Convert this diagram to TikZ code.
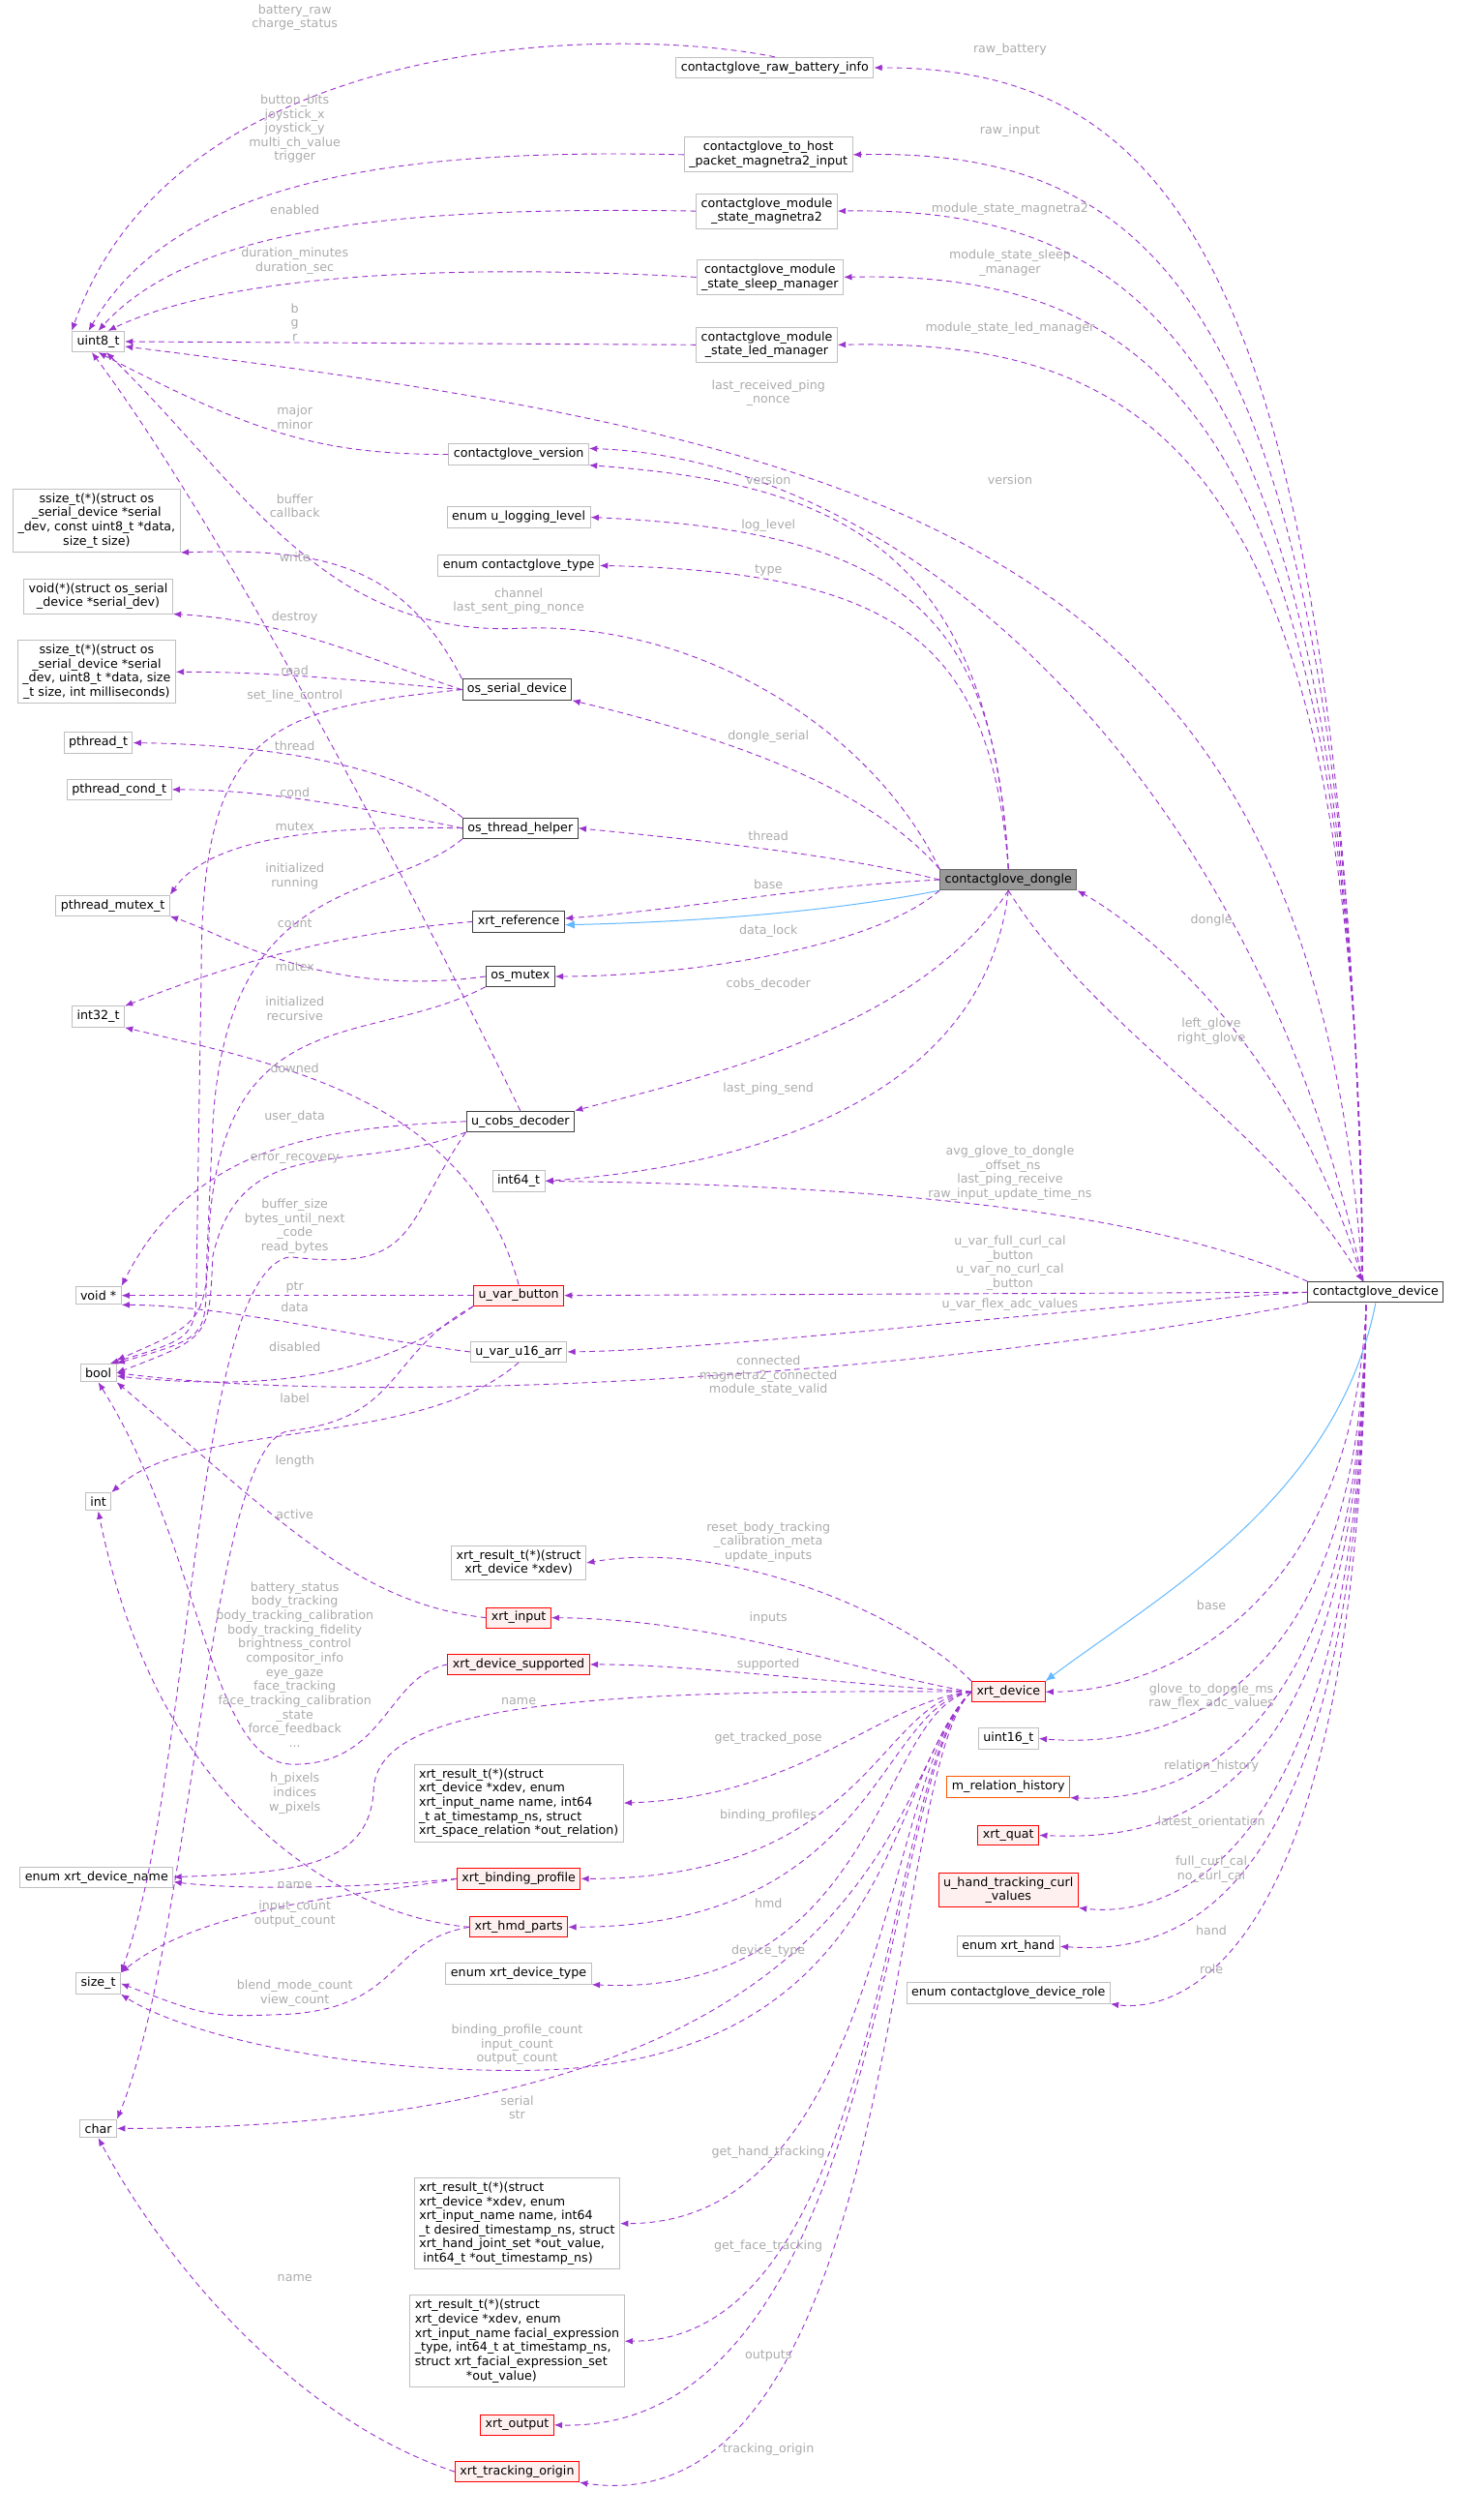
\documentclass[tikz,border=0pt]{standalone}
\usepackage{fontspec}
\setmainfont{DejaVu Sans}
\usetikzlibrary{arrows.meta}
\definecolor{edgep}{HTML}{9A32CD}
\definecolor{inh}{HTML}{63B8FF}
\definecolor{lblc}{HTML}{ABABAB}
\definecolor{bgray}{HTML}{BFBFBF}
\definecolor{bdark}{HTML}{404040}
\definecolor{rfill}{HTML}{FFF0F0}
\begin{document}
\begin{tikzpicture}[x=1pt,y=-1pt,
  every node/.style={font=\fontsize{7.6}{8.8}\selectfont},
  nd/.style={draw=bgray,fill=white,inner xsep=3pt,inner ysep=2.6pt,align=center,line width=0.6pt},
  ndl/.style={nd,align=left},
  ndk/.style={nd,draw=bdark},
  ndr/.style={nd,draw=red,fill=rfill},
  ndo/.style={nd,draw=orange!70!red},
  ndg/.style={nd,draw=black!60,fill=black!40},
  dep/.style={draw=edgep,dashed,dash pattern=on 3.5pt off 2.5pt,line width=0.55pt,-{Latex[length=5pt,width=4pt]}},
  inhe/.style={draw=inh,line width=0.6pt,-{Latex[length=6pt,width=5pt]}},
  lbl/.style={text=lblc,align=center,inner sep=0pt}]
\useasboundingbox (0,0) rectangle (905,1564);
% left column
\node[nd] (u8) at (61,212) {uint8\_t};
\node[nd] (wfn) at (60,323) {ssize\_t(*)(struct os\\\_serial\_device *serial\\\_dev, const uint8\_t *data,\\size\_t size)};
\node[nd] (vfn) at (61,370) {void(*)(struct os\_serial\\\_device *serial\_dev)};
\node[nd] (rfn) at (60,417) {ssize\_t(*)(struct os\\\_serial\_device *serial\\\_dev, uint8\_t *data, size\\\_t size, int milliseconds)};
\node[nd] (pth) at (61,461) {pthread\_t};
\node[nd] (pcond) at (74,490) {pthread\_cond\_t};
\node[nd] (pmut) at (70,562) {pthread\_mutex\_t};
\node[nd] (i32) at (61,631) {int32\_t};
\node[nd] (vptr) at (61,804) {void *};
\node[nd] (bool) at (61,852) {bool};
\node[nd] (int) at (61,932) {int};
\node[nd] (edn) at (60,1165) {enum xrt\_device\_name};
\node[nd] (szt) at (61,1231) {size\_t};
\node[nd] (chr) at (61,1321) {char};
% middle column
\node[nd] (ver) at (322,282) {contactglove\_version};
\node[nd] (ull) at (322,321) {enum u\_logging\_level};
\node[nd] (cgt) at (322,351) {enum contactglove\_type};
\node[ndk] (osd) at (321,428) {os\_serial\_device};
\node[ndk] (oth) at (323,514) {os\_thread\_helper};
\node[ndk] (xref) at (322,572) {xrt\_reference};
\node[ndk] (omx) at (323,606) {os\_mutex};
\node[ndk] (cobs) at (323,696) {u\_cobs\_decoder};
\node[nd] (i64) at (322,733) {int64\_t};
\node[ndr] (uvb) at (322,804) {u\_var\_button};
\node[nd] (u16a) at (322,839) {u\_var\_u16\_arr};
\node[nd] (fxd) at (322,970) {xrt\_result\_t(*)(struct\\xrt\_device *xdev)};
\node[ndr] (xin) at (322,1004) {xrt\_input};
\node[ndr] (xds) at (322,1033) {xrt\_device\_supported};
\node[ndl] (ftp) at (322,1119) {xrt\_result\_t(*)(struct\\ xrt\_device *xdev, enum\\ xrt\_input\_name name, int64\\\_t at\_timestamp\_ns, struct\\ xrt\_space\_relation *out\_relation)};
\node[ndr] (xbp) at (322,1166) {xrt\_binding\_profile};
\node[ndr] (xhp) at (322,1196) {xrt\_hmd\_parts};
\node[nd] (xdt) at (322,1225) {enum xrt\_device\_type};
\node[ndl] (fht) at (321,1380) {xrt\_result\_t(*)(struct\\ xrt\_device *xdev, enum\\ xrt\_input\_name name, int64\\\_t desired\_timestamp\_ns, struct\\ xrt\_hand\_joint\_set *out\_value,\\ \ int64\_t *out\_timestamp\_ns)};
\node[ndl] (ffe) at (321,1453) {xrt\_result\_t(*)(struct\\ xrt\_device *xdev, enum\\ xrt\_input\_name facial\_expression\\\_type, int64\_t at\_timestamp\_ns,\\ struct xrt\_facial\_expression\_set\\ \hspace{4.2em}*out\_value)};
\node[ndr] (xout) at (321,1505) {xrt\_output};
\node[ndr] (xto) at (321,1534) {xrt\_tracking\_origin};
% upper middle
\node[nd] (rbi) at (481,42) {contactglove\_raw\_battery\_info};
\node[nd] (thp) at (477,96) {contactglove\_to\_host\\\_packet\_magnetra2\_input};
\node[nd] (msm) at (476,131) {contactglove\_module\\\_state\_magnetra2};
\node[nd] (mss) at (478,172) {contactglove\_module\\\_state\_sleep\_manager};
\node[nd] (msl) at (476,214) {contactglove\_module\\\_state\_led\_manager};
\node[ndg] (dongle) at (626,546) {contactglove\_dongle};
% right column
\node[ndr] (xd) at (626,1050) {xrt\_device};
\node[nd] (u16) at (626,1079) {uint16\_t};
\node[ndo] (mrh) at (626,1109) {m\_relation\_history};
\node[ndr] (xq) at (626,1139) {xrt\_quat};
\node[ndr] (uhc) at (626,1173) {u\_hand\_tracking\_curl\\\_values};
\node[nd] (exh) at (626,1208) {enum xrt\_hand};
\node[nd] (role) at (626,1237) {enum contactglove\_device\_role};
\node[ndk] (dev) at (854,802) {contactglove\_device};
\coordinate (dT) at (846,795);
\coordinate (dB) at (848,810);

% ---- edges to uint8_t
\draw[dep] (rbi.north) .. controls (380,15) and (110,20) .. (u8.north west);
\draw[dep] (thp.west) .. controls (250,92) and (110,110) .. ([xshift=-6]u8.north);
\draw[dep] (msm.west) .. controls (250,128) and (120,140) .. (u8.north);
\draw[dep] (mss.west) .. controls (250,162) and (130,175) .. ([xshift=6]u8.north);
\draw[dep] (msl.west) -- (u8.east);
\draw[dep] (ver.west) .. controls (200,282) and (160,270) .. (u8.south);
\draw[dep] (dT) .. controls (815,340) and (560,275) .. ([yshift=-3]u8.east);
\draw[dep] (dongle.north west) .. controls (540,450) and (430,385) .. (322,390) .. controls (200,395) and (150,300) .. ([xshift=5]u8.south);
\draw[dep] (cobs.north) .. controls (260,560) and (140,330) .. ([xshift=-4]u8.south);
% os_serial_device
\draw[dep] (osd.north west) .. controls (250,350) and (200,340) .. (wfn.south east);
\draw[dep] (osd.west) .. controls (230,410) and (180,385) .. (vfn.south east);
\draw[dep] (osd.west) .. controls (220,422) and (170,417) .. (rfn.east);
\draw[dep] (osd.west) .. controls (170,440) and (125,450) .. (125,600) -- (122,790) .. controls (122,830) .. ([xshift=-4]bool.north east);
% os_thread_helper
\draw[dep] (oth.north west) .. controls (240,470) and (150,462) .. (pth.east);
\draw[dep] (oth.west) .. controls (220,500) and (160,490) .. (pcond.east);
\draw[dep] (oth.west) .. controls (200,512) and (130,520) .. (pmut.north east);
\draw[dep] (oth.south west) .. controls (240,560) and (140,540) .. (132,700) -- (128,790) .. controls (128,830) .. (bool.north east);
% xrt_reference, os_mutex
\draw[dep] (xref.west) .. controls (200,580) and (140,600) .. (i32.north east);
\draw[dep] (omx.west) .. controls (200,620) and (140,580) .. (pmut.south east);
\draw[dep] (omx.south west) .. controls (230,650) and (140,620) .. (130,760) .. controls (128,820) .. ([yshift=2]bool.north east);
% u_cobs_decoder
\draw[dep] (cobs.west) .. controls (200,700) and (120,710) .. (vptr.north east);
\draw[dep] (cobs.south west) .. controls (220,730) and (150,700) .. (132,780) .. controls (130,830) .. (bool.east);
\draw[dep] (cobs.south west) .. controls (250,760) and (260,790) .. (180,780) .. controls (120,790) and (120,1100) .. (szt.north east);
% u_var_button, u_var_u16_arr
\draw[dep] (uvb.north) .. controls (290,680) and (170,660) .. (i32.south east);
\draw[dep] (uvb.west) -- (vptr.east);
\draw[dep] (uvb.south west) .. controls (240,850) and (180,865) .. ([yshift=-2]bool.east);
\draw[dep] (uvb.south west) .. controls (240,840) and (250,880) .. (180,888) .. controls (130,892) and (120,1200) .. (chr.north east);
\draw[dep] (u16a.west) .. controls (220,830) and (140,810) .. (vptr.south east);
\draw[dep] (u16a.south) .. controls (260,900) and (120,880) .. (int.north east);
% xrt_input etc
\draw[dep] (xin.west) .. controls (220,995) and (170,940) .. (bool.south east);
\draw[dep] (xds.west) .. controls (240,1040) and (240,1095) .. (182,1095) .. controls (130,1095) and (125,960) .. (bool.south);
\draw[dep] (xbp.west) .. controls (220,1172) and (150,1173) .. ([yshift=-3]edn.east);
\draw[dep] (xbp.west) .. controls (240,1175) and (130,1180) .. (szt.north east);
\draw[dep] (xhp.west) .. controls (220,1190) and (100,1130) .. (int.south);
\draw[dep] (xhp.west) .. controls (240,1205) and (250,1245) .. (180,1250) .. controls (130,1252) .. (szt.east);
\draw[dep] (xto.west) .. controls (180,1500) and (100,1400) .. (chr.south);
% xrt_device outgoing
\draw[dep] (xd.north west) .. controls (560,1000) and (450,955) .. (fxd.east);
\draw[dep] (xd.west) .. controls (540,1040) and (450,1005) .. (xin.east);
\draw[dep] (xd.west) .. controls (520,1045) and (430,1033) .. (xds.east);
\draw[dep] (xd.west) .. controls (350,1048) and (235,1060) .. (232,1110) .. controls (230,1160) and (180,1162) .. (edn.east);
\draw[dep] (xd.west) .. controls (548,1055) and (500,1115) .. (ftp.east);
\draw[dep] (xd.west) .. controls (545,1055) and (540,1166) .. (xbp.east);
\draw[dep] (xd.west) .. controls (545,1058) and (545,1196) .. (xhp.east);
\draw[dep] (xd.west) .. controls (545,1060) and (548,1240) .. (xdt.south east);
\draw[dep] (xd.west) .. controls (550,1100) and (560,1285) .. (321,1285) .. controls (200,1285) and (110,1260) .. (szt.south east);
\draw[dep] (xd.west) .. controls (550,1100) and (560,1320) .. (chr.east);
\draw[dep] (xd.west) .. controls (548,1100) and (550,1380) .. (fht.east);
\draw[dep] (xd.west) .. controls (548,1100) and (550,1453) .. (ffe.east);
\draw[dep] (xd.west) .. controls (548,1100) and (550,1510) .. (xout.east);
\draw[dep] (xd.west) .. controls (550,1100) and (560,1570) .. (xto.south east);
% dongle outgoing
\draw[dep] (dongle.north) .. controls (615,340) and (520,300) .. (ver.south east);
\draw[dep] (dongle.north) .. controls (618,380) and (560,330) .. (ull.east);
\draw[dep] (dongle.north) .. controls (615,400) and (560,355) .. (cgt.east);
\draw[dep] (dongle.north west) .. controls (540,490) and (460,460) .. (osd.south east);
\draw[dep] (dongle.west) .. controls (520,530) and (420,520) .. (oth.east);
\draw[dep] (dongle.west) .. controls (500,550) and (420,565) .. ([yshift=2]xref.east);
\draw[inhe] (dongle.south west) .. controls (520,565) and (440,572) .. ([yshift=-2]xref.east);
\draw[dep] (dongle.south west) .. controls (540,590) and (420,606) .. (omx.east);
\draw[dep] (dongle.south) .. controls (570,640) and (430,670) .. (cobs.north east);
\draw[dep] (dongle.south) .. controls (610,690) and (450,725) .. (i64.east);
\draw[dep] (dongle.south) .. controls (680,640) and (790,700) .. ([xshift=-8]dev.north);
% contactglove_device outgoing
\draw[dep] (dT) .. controls (835,150) and (720,42) .. (rbi.east);
\draw[dep] (dT) .. controls (838,190) and (720,92) .. (thp.east);
\draw[dep] (dT) .. controls (840,230) and (720,128) .. (msm.east);
\draw[dep] (dT) .. controls (842,260) and (720,168) .. (mss.east);
\draw[dep] (dT) .. controls (844,290) and (720,210) .. (msl.east);
\draw[dep] (dT) .. controls (780,480) and (560,285) .. ([yshift=-3]ver.north east);
\draw[dep] (dT) .. controls (800,640) and (700,570) .. (dongle.south east);
\draw[dep] (dev.north west) .. controls (700,745) and (500,735) .. (i64.east);
\draw[dep] (dev.west) -- (uvb.east);
\draw[dep] (dev.west) .. controls (700,808) and (450,838) .. (u16a.east);
\draw[dep] (dev.south west) .. controls (600,850) and (250,875) .. (bool.east);
\draw[inhe] (dev.south) .. controls (830,930) and (720,990) .. (xd.north east);
\draw[dep] (dB) .. controls (840,1000) and (720,1050) .. (xd.east);
\draw[dep] (dB) .. controls (845,1060) and (720,1085) .. (u16.east);
\draw[dep] (dB) .. controls (845,1100) and (720,1118) .. (mrh.south east);
\draw[dep] (dB) .. controls (845,1130) and (720,1142) .. (xq.east);
\draw[dep] (dB) .. controls (845,1165) and (720,1190) .. (uhc.south east);
\draw[dep] (dB) .. controls (845,1200) and (720,1212) .. (exh.east);
\draw[dep] (dB) .. controls (845,1240) and (720,1248) .. (role.south east);

% ---- labels
\node[lbl] (l1) at (183,11) {battery\_raw\\charge\_status};
\node[lbl] (l2) at (183,80) {button\_bits\\joystick\_x\\joystick\_y\\multi\_ch\_value\\trigger};
\node[lbl] (l3) at (183,130) {enabled};
\node[lbl] (l4) at (183,162) {duration\_minutes\\duration\_sec};
\node[lbl] (l5) at (183,200) {b\\g\\r};
\node[lbl] (l6) at (183,259) {major\\minor};
\node[lbl] (l7) at (183,314) {buffer\\callback};
\node[lbl] (l8) at (183,346) {write};
\node[lbl] (l9) at (183,383) {destroy};
\node[lbl] (l10) at (183,416) {read};
\node[lbl] (l11) at (183,432) {set\_line\_control};
\node[lbl] (l12) at (183,463) {thread};
\node[lbl] (l13) at (183,492) {cond};
\node[lbl] (l14) at (183,513) {mutex};
\node[lbl] (l15) at (183,544) {initialized\\running};
\node[lbl] (l16) at (183,573) {count};
\node[lbl] (l17) at (183,600) {mutex};
\node[lbl] (l18) at (183,626) {initialized\\recursive};
\node[lbl] (l19) at (183,663) {downed};
\node[lbl] (l20) at (183,693) {user\_data};
\node[lbl] (l21) at (183,719) {error\_recovery};
\node[lbl] (l22) at (183,761) {buffer\_size\\bytes\_until\_next\\\_code\\read\_bytes};
\node[lbl] (l23) at (183,799) {ptr};
\node[lbl] (l24) at (183,811) {data};
\node[lbl] (l25) at (183,836) {disabled};
\node[lbl] (l26) at (183,868) {label};
\node[lbl] (l27) at (183,907) {length};
\node[lbl] (l28) at (183,940) {active};
\node[lbl] (l29) at (183,1033) {battery\_status\\body\_tracking\\body\_tracking\_calibration\\body\_tracking\_fidelity\\brightness\_control\\compositor\_info\\eye\_gaze\\face\_tracking\\face\_tracking\_calibration\\\_state\\force\_feedback\\...};
\node[lbl] (l30) at (322,1056) {name};
\node[lbl] (l31) at (183,1113) {h\_pixels\\indices\\w\_pixels};
\node[lbl] (l32) at (183,1170) {name};
\node[lbl] (l33) at (183,1188) {input\_count\\output\_count};
\node[lbl] (l34) at (183,1237) {blend\_mode\_count\\view\_count};
\node[lbl] (l35) at (183,1414) {name};
\node[lbl] (l36) at (322,373) {channel\\last\_sent\_ping\_nonce};
\node[lbl] (l37) at (321,1269) {binding\_profile\_count\\input\_count\\output\_count};
\node[lbl] (l38) at (321,1308) {serial\\str};
\node[lbl] (l39) at (477,244) {last\_received\_ping\\\_nonce};
\node[lbl] (l40) at (477,298) {version};
\node[lbl] (l41) at (477,326) {log\_level};
\node[lbl] (l42) at (477,354) {type};
\node[lbl] (l43) at (477,457) {dongle\_serial};
\node[lbl] (l44) at (477,519) {thread};
\node[lbl] (l45) at (477,549) {base};
\node[lbl] (l46) at (477,578) {data\_lock};
\node[lbl] (l47) at (477,611) {cobs\_decoder};
\node[lbl] (l48) at (477,676) {last\_ping\_send};
\node[lbl] (l49) at (477,854) {connected\\magnetra2\_connected\\module\_state\_valid};
\node[lbl] (l50) at (477,957) {reset\_body\_tracking\\\_calibration\_meta\\update\_inputs};
\node[lbl] (l51) at (477,1004) {inputs};
\node[lbl] (l52) at (477,1033) {supported};
\node[lbl] (l53) at (477,1079) {get\_tracked\_pose};
\node[lbl] (l54) at (477,1127) {binding\_profiles};
\node[lbl] (l55) at (477,1181) {hmd};
\node[lbl] (l56) at (477,1211) {device\_type};
\node[lbl] (l57) at (477,1336) {get\_hand\_tracking};
\node[lbl] (l58) at (477,1394) {get\_face\_tracking};
\node[lbl] (l59) at (477,1462) {outputs};
\node[lbl] (l60) at (477,1520) {tracking\_origin};
\node[lbl] (l61) at (627,31) {raw\_battery};
\node[lbl] (l62) at (627,81) {raw\_input};
\node[lbl] (l63) at (627,130) {module\_state\_magnetra2};
\node[lbl] (l64) at (627,163) {module\_state\_sleep\\\_manager};
\node[lbl] (l65) at (627,204) {module\_state\_led\_manager};
\node[lbl] (l66) at (627,298) {version};
\node[lbl] (l67) at (627,728) {avg\_glove\_to\_dongle\\\_offset\_ns\\last\_ping\_receive\\raw\_input\_update\_time\_ns};
\node[lbl] (l68) at (627,784) {u\_var\_full\_curl\_cal\\\_button\\u\_var\_no\_curl\_cal\\\_button};
\node[lbl] (l69) at (627,810) {u\_var\_flex\_adc\_values};
\node[lbl] (l70) at (752,571) {dongle};
\node[lbl] (l71) at (752,640) {left\_glove\\right\_glove};
\node[lbl] (l72) at (752,996) {base};
\node[lbl] (l73) at (752,1053) {glove\_to\_dongle\_ms\\raw\_flex\_adc\_values};
\node[lbl] (l74) at (752,1096) {relation\_history};
\node[lbl] (l75) at (752,1131) {latest\_orientation};
\node[lbl] (l76) at (752,1160) {full\_curl\_cal\\no\_curl\_cal};
\node[lbl] (l77) at (752,1198) {hand};
\node[lbl] (l78) at (752,1222) {role};
\end{tikzpicture}
\end{document}
